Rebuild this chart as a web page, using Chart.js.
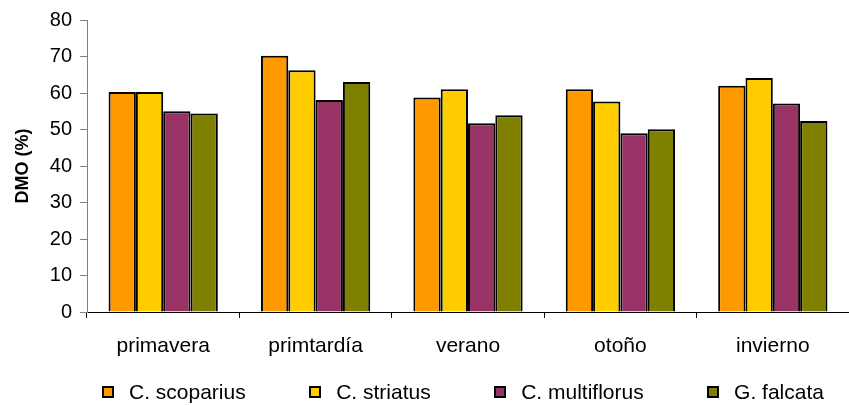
<!DOCTYPE html>
<html>
<head>
<meta charset="utf-8">
<script src="https://cdn.jsdelivr.net/npm/chart.js@4.4.0/dist/chart.umd.min.js"></script>
<style>
  body { margin: 0; background: #fff; }
  #wrap { position: relative; width: 849px; height: 405px; }
  #legend {
    position: absolute; top: 381px; left: 102px; width: 722px; height: 22px;
    display: flex; justify-content: space-between; align-items: center;
    font-family: 'Liberation Sans', Arial, sans-serif; font-size: 21px; color: #000;
  }
  #legend .item { display: flex; align-items: center; white-space: nowrap; }
  #legend .box { width: 8px; height: 8px; border: 2px solid #000; margin-right: 15px; }
</style>
</head>
<body>
<div id="wrap">
  <canvas id="myChart"></canvas>
  <div id="legend"></div>
</div>
<script>
const ctx = document.getElementById('myChart');
const seasons = ['primavera', 'primtardía', 'verano', 'otoño', 'invierno'];
const species = ['C. scoparius', 'C. striatus', 'C. multiflorus', 'G. falcata'];
const scoparius = [60.3, 70.2, 58.8, 61.0, 62.0];
const striatus = [60.3, 66.2, 61.0, 57.7, 64.1];
const multiflorus = [55.0, 58.1, 51.7, 49.0, 57.1];
const falcata = [54.4, 63.0, 53.9, 50.1, 52.3];
const colores = ['#FF9900', '#FFCC00', '#993366', '#808000'];

const series = [scoparius, striatus, multiflorus, falcata];
const font = "'Liberation Sans', Arial, sans-serif";

const myChart = new Chart(ctx, {
    type: 'bar',
    data: {
        labels: seasons,
        datasets: series.map((vals, i) => ({
            label: species[i],
            data: vals,
            backgroundColor: colores[i],
            borderColor: '#000',
            borderWidth: 2,
            borderSkipped: 'bottom',
            categoryPercentage: 0.717,
            barPercentage: 1
        }))
    },
    options: {
        responsive: true,
        maintainAspectRatio: false,
        animation: false,
        layout: {
            padding: {top: 19, right: 0, bottom: 45, left: 0}
        },
        plugins: {
            legend: { display: false },
            tooltip: { enabled: false }
        },
        scales: {
            x: {
                grid: {
                    drawOnChartArea: false,
                    offset: true,
                    tickLength: 6,
                    color: '#000'
                },
                border: { color: '#000', width: 1 },
                ticks: {
                    color: '#000',
                    padding: 16,
                    font: { family: font, size: 21 }
                },
                afterFit: (scale) => { scale.height = 48; }
            },
            y: {
                min: 0,
                max: 80,
                ticks: {
                    stepSize: 10,
                    color: '#000',
                    padding: 8,
                    font: { family: font, size: 20 }
                },
                grid: {
                    drawOnChartArea: false,
                    tickLength: 7,
                    color: '#808080'
                },
                border: { color: '#808080', width: 1 },
                title: {
                    display: true,
                    text: 'DMO (%)',
                    color: '#000',
                    padding: {top: 12, bottom: 0},
                    font: { family: font, size: 18, weight: 'bold' }
                },
                afterFit: (scale) => { scale.width = 87; }
            }
        }
    }
});

// leyenda en HTML, construida desde los datasets
const legend = document.getElementById('legend');
myChart.data.datasets.forEach(ds => {
    const item = document.createElement('div');
    item.className = 'item';
    const box = document.createElement('span');
    box.className = 'box';
    box.style.background = ds.backgroundColor;
    item.appendChild(box);
    item.appendChild(document.createTextNode(ds.label));
    legend.appendChild(item);
});
</script>
</body>
</html>
